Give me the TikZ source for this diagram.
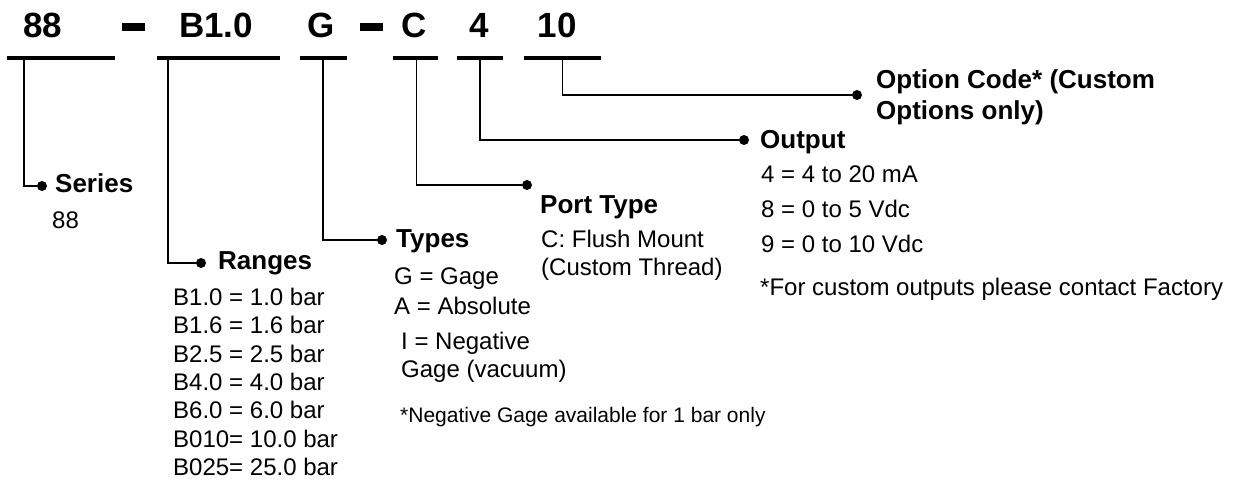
\documentclass[tikz,border=0pt]{standalone}
\usepackage{fontspec}
\setmainfont{Liberation Sans}
\begin{document}
\begin{tikzpicture}[x=1pt,y=-1pt,
  hdr/.style={font=\fontsize{35}{40}\selectfont\bfseries, inner sep=0pt, anchor=base},
  lbl/.style={font=\fontsize{26}{29}\selectfont\bfseries, inner sep=0pt, anchor=base west},
  txt/.style={font=\fontsize{24}{28}\selectfont, inner sep=0pt, anchor=base west},
  note/.style={font=\fontsize{21}{25}\selectfont, inner sep=0pt, anchor=base west},
  codebar/.style={fill=black, inner sep=0pt, minimum height=4.5pt},
  dashbar/.style={fill=black, inner sep=0pt, minimum width=23pt, minimum height=7.5pt},
  conn/.style={line width=1.5pt},
  dot/.style={circle, fill=black, inner sep=0pt, minimum size=10pt}]
\useasboundingbox (0,0) rectangle (1233,481);
% header code
\node[hdr] (h88) at (43,38) {88};
\node[dashbar] (d1) at (133.5,27) {};
\node[hdr] (hB) at (216,38) {B1.0};
\node[hdr] (hG) at (321,38) {G};
\node[dashbar] (d2) at (371.5,27) {};
\node[hdr] (hC) at (414,38) {C};
\node[hdr] (h4) at (479,38) {4};
\node[hdr] (h10) at (557,38) {10};
% bars
\node[codebar, minimum width=108pt] (b1) at (61,58) {};
\node[codebar, minimum width=123pt] (b2) at (218.5,58) {};
\node[codebar, minimum width=47pt] (b3) at (323.5,58) {};
\node[codebar, minimum width=45pt] (b4) at (415.5,58) {};
\node[codebar, minimum width=46pt] (b5) at (480,58) {};
\node[codebar, minimum width=77pt] (b6) at (562.5,58) {};
% dots
\node[dot] (sdot) at (42,186) {};
\node[dot] (rdot) at (201,263) {};
\node[dot] (tdot) at (382,240) {};
\node[dot] (pdot) at (527,185) {};
\node[dot] (odot) at (744,140) {};
\node[dot] (cdot) at (857,95) {};
% connectors
\draw[conn] ([xshift=-37pt]b1.south) |- (sdot);
\draw[conn] ([xshift=-50.5pt]b2.south) |- (rdot);
\draw[conn] ([xshift=-0.5pt]b3.south) |- (tdot);
\draw[conn] ([xshift=1pt]b4.south) |- (pdot);
\draw[conn] ([xshift=0pt]b5.south) |- (odot);
\draw[conn] ([xshift=0pt]b6.south) |- (cdot);
% Series
\node[lbl] (lser) at (55,193) {Series};
\node[txt] (tser) at (52,228) {88};
% Ranges
\node[lbl] (lran) at (218,269) {Ranges};
\node[txt] (r1) at (173,305.5) {B1.0 = 1.0 bar};
\node[txt] (r2) at (173,333.8) {B1.6 = 1.6 bar};
\node[txt] (r3) at (173,362.1) {B2.5 = 2.5 bar};
\node[txt] (r4) at (173,390.4) {B4.0 = 4.0 bar};
\node[txt] (r5) at (173,418.7) {B6.0 = 6.0 bar};
\node[txt] (r6) at (173,447) {B010= 10.0 bar};
\node[txt] (r7) at (173,475.3) {B025= 25.0 bar};
% Types
\node[lbl] (ltyp) at (396,247) {Types};
\node[txt] (t1) at (394,284) {G = Gage};
\node[txt] (t2) at (394,314) {A = Absolute};
\node[txt] (t3) at (401,349) {I = Negative};
\node[txt] (t4) at (401,377) {Gage (vacuum)};
\node[note] (tnote) at (400,422) {*Negative Gage available for 1 bar only};
% Port type
\node[lbl] (lport) at (540,213) {Port Type};
\node[txt] (p1) at (541,247.5) {C: Flush Mount};
\node[txt] (p2) at (541,275) {(Custom Thread)};
% Output
\node[lbl] (lout) at (760,148.5) {Output};
\node[txt] (o1) at (761,182.5) {4 = 4 to 20 mA};
\node[txt] (o2) at (761,217) {8 = 0 to 5 Vdc};
\node[txt] (o3) at (761,252) {9 = 0 to 10 Vdc};
\node[txt] (onote) at (760,295) {*For custom outputs please contact Factory};
% Option code
\node[lbl] (lopt1) at (876,89) {Option Code* (Custom};
\node[lbl] (lopt2) at (876,120) {Options only)};
\end{tikzpicture}
\end{document}
